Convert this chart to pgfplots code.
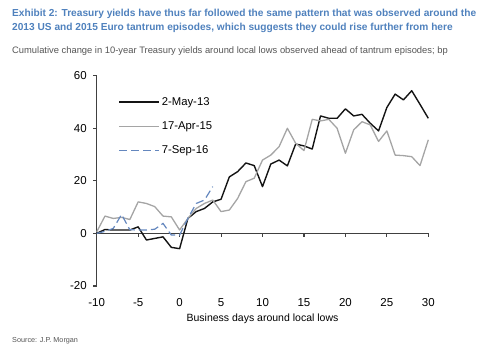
\documentclass[border=0pt]{standalone}
\usepackage{pgfplots}
\pgfplotsset{compat=1.18}
\usepackage{fontspec}
\setmainfont{Liberation Sans}
\definecolor{titleblue}{RGB}{79,129,189}
\definecolor{subgray}{RGB}{85,85,85}
\definecolor{axgray}{RGB}{64,64,64}
\definecolor{serblack}{RGB}{20,20,20}
\definecolor{sergray}{RGB}{165,165,165}
\definecolor{serblue}{RGB}{100,135,190}
\pgfplotstableread{
x y
-10 0
-9 1.5
-8 1.3
-7 1.3
-6 1.3
-5 2.5
-4 -2.5
-3 -1.9
-2 -1.3
-1 -5.3
0 -5.8
1 5.7
2 8.3
3 9.5
4 12
5 13
6 21.5
7 23.5
8 26.8
9 25.8
10 17.8
11 26.4
12 27.9
13 25.7
14 34
15 33.3
16 32.1
17 44.7
18 43.8
19 43.8
20 47.4
21 44.7
22 45.3
23 41.9
24 39
25 47.9
26 53
27 50.8
28 54.3
29 49.1
30 43.8
}\maytable
\pgfplotstableread{
x y
-10 0.6
-9 6.6
-8 5.7
-7 6.1
-6 5.3
-5 12
-4 11.4
-3 10.2
-2 6.6
-1 6.3
0 1.3
1 5.7
2 9.5
3 11.4
4 12.7
5 8.3
6 8.9
7 13.3
8 19.7
9 21
10 27.9
11 29.8
12 33
13 40
14 34.3
15 31.5
16 43.4
17 42.8
18 43.4
19 40
20 30.5
21 39.4
22 42.5
23 41.3
24 35
25 39
26 29.8
27 29.6
28 29.2
29 25.8
30 35.6
}\aprtable
\pgfplotstableread{
x y
-10 0
-9 0.8
-8 1.9
-7 7.2
-6 1.4
-5 1.3
-4 1.3
-3 1.6
-2 3.8
-1 -0.6
0 -0.6
1 5.7
2 11.4
3 12.7
4 17.8
}\septable
\begin{document}
\begin{tikzpicture}
\path[use as bounding box] (0,0) rectangle (488bp,-351bp);
\node[anchor=base west, inner sep=0, text=titleblue, font=\fontsize{10.15bp}{11bp}\selectfont\bfseries] at (12bp,-16bp) {Exhibit 2: Treasury yields have thus far followed the same pattern that was observed around the};
\node[anchor=base west, inner sep=0, text=titleblue, font=\fontsize{10.15bp}{11bp}\selectfont\bfseries] at (12bp,-30.7bp) {2013 US and 2015 Euro tantrum episodes, which suggests they could rise further from here};
\node[anchor=base west, inner sep=0, text=subgray, font=\fontsize{9.37bp}{10bp}\selectfont] at (12bp,-53bp) {Cumulative change in 10-year Treasury yields around local lows observed ahead of tantrum episodes; bp};
\node[anchor=base west, inner sep=0, text=subgray, font=\fontsize{7.25bp}{8bp}\selectfont] at (12bp,-342.7bp) {Source: J.P. Morgan};
\begin{axis}[
  at={(96.7bp,-286bp)}, anchor=south west,
  scale only axis, width=331.6bp, height=210.3bp,
  xmin=-10, xmax=30, ymin=-20, ymax=60,
  axis x line*=bottom, axis y line*=left,
  x axis line style={draw=none},
  y axis line style={draw=axgray, line width=1.3bp, -},
  xtick={-10,-5,...,30}, ytick={-20,0,20,40,60},
  xtick style={draw=none},
  ytick style={draw=axgray, line width=1.1bp},
  tick align=outside, major tick length=3.5bp,
  /pgf/number format/assume math mode=true,
  tick label style={font=\fontsize{11.5bp}{13bp}\selectfont, text=black},
  xticklabel style={anchor=north, text height=8.3bp, text depth=0bp, yshift=-5bp},
  yticklabel style={xshift=-3bp},
  xlabel={Business days around local lows},
  xlabel style={font=\fontsize{10.5bp}{12bp}\selectfont, anchor=north, yshift=-1bp},
  clip=false,
  legend style={draw=none, fill=none, at={(axis cs:-7.4,52.6)}, anchor=north west,
    font=\fontsize{11.3bp}{13bp}\selectfont, row sep=11bp, inner sep=0pt,
    /tikz/every even column/.append style={column sep=3bp}},
  legend cell align=left,
  legend image code/.code={\draw[#1] (0bp,0bp) -- (40bp,0bp);},
]
\draw[axgray, line width=1.3bp] (axis cs:-10,0) -- (axis cs:30,0);
\pgfplotsinvokeforeach{-5,0,5,10,15,20,25,30}{\draw[axgray, line width=1.1bp] (axis cs:#1,0) -- ([yshift=-3.5bp]axis cs:#1,0);}
\addplot[serblack, line width=1.4bp, line join=round] table[x=x,y=y]{\maytable};
\addlegendentry{2-May-13}
\addplot[sergray, line width=1.3bp, line join=round] table[x=x,y=y]{\aprtable};
\addlegendentry{17-Apr-15}
\addplot[serblue, line width=1.2bp, dash pattern=on 8bp off 4bp] table[x=x,y=y]{\septable};
\addlegendentry{7-Sep-16}
\end{axis}
\end{tikzpicture}
\end{document}
